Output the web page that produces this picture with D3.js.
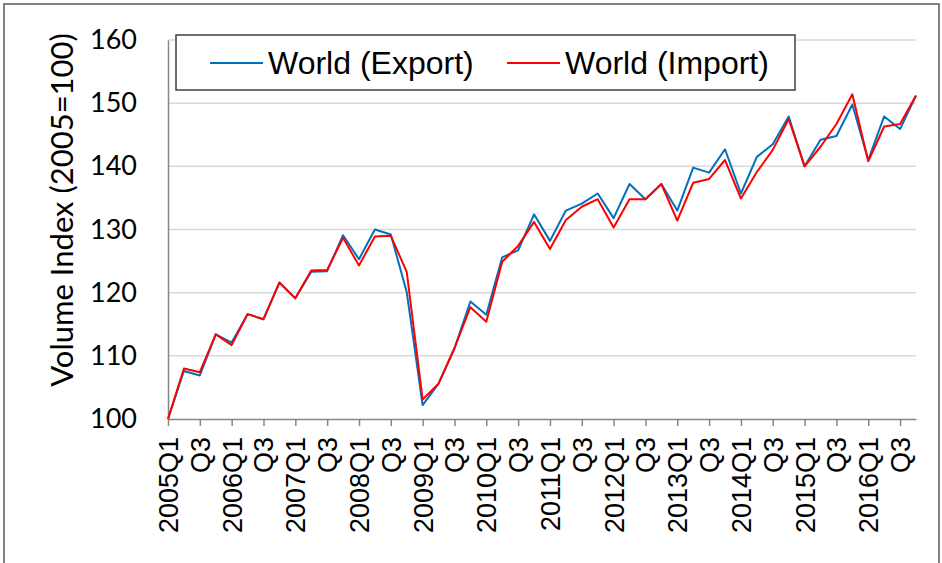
<!DOCTYPE html>
<html><head><meta charset="utf-8">
<script src="https://cdn.jsdelivr.net/npm/d3@7"></script>
<style>body{margin:0;background:#fff}svg{display:block}</style>
</head><body><svg id="c" width="942" height="563"></svg>
<script>
const years = [2005,2006,2007,2008,2009,2010,2011,2012,2013,2014,2015,2016];
const quarters = years.flatMap(y => [1,2,3,4].map(q => y + "Q" + q));
const exportVals = [100,107.6,106.9,113.4,112.1,116.6,115.8,121.6,119.1,123.3,123.4,129.1,
  125.3,130.0,129.2,120.1,102.2,105.6,111.2,118.6,116.5,125.6,126.7,132.4,
  128.2,133.0,134.1,135.7,131.8,137.2,134.8,137.2,133.0,139.8,139.0,142.7,
  135.7,141.5,143.5,147.9,140.0,144.2,144.8,149.8,141.0,147.9,145.9,151.2];
const importVals = [100,108.0,107.4,113.4,111.7,116.6,115.8,121.6,119.1,123.5,123.6,128.7,
  124.3,128.9,129.0,123.3,103.1,105.6,111.2,117.7,115.4,124.9,127.4,131.2,
  126.9,131.5,133.6,134.8,130.3,134.8,134.8,137.2,131.4,137.4,138.0,141.0,
  134.9,139.1,142.6,147.5,140.0,143.1,146.7,151.4,140.8,146.3,146.7,151.2];
const yTicks = [100,110,120,130,140,150,160];
const seriesNames = ["World (Export)","World (Import)"];
const seriesColors = ["#0070C0","#FF0000"];

const svg = d3.select("#c");
const L = 168, R = 916, T = 40, B = 419;
svg.append("rect").attr("x",4).attr("y",4).attr("width",935).attr("height",570)
  .attr("fill","#fff").attr("stroke","#595959").attr("stroke-width",1.5);

const x = d3.scalePoint().domain(quarters).range([L,R]);
const y = d3.scaleLinear().domain([100,160]).range([B,T]);

// gridlines
svg.append("g").selectAll("line").data(yTicks.slice(1)).join("line")
  .attr("x1",L).attr("x2",R).attr("y1",d=>y(d)).attr("y2",d=>y(d))
  .attr("stroke","#d9d9d9").attr("stroke-width",1.5);

// y axis
const ya = svg.append("g").attr("transform",`translate(${L},0)`)
  .call(d3.axisLeft(y).tickValues(yTicks).tickSize(0).tickPadding(31));
ya.select(".domain").attr("stroke","#868686").attr("stroke-width",1.5);
ya.selectAll("text").attr("font-family","Lato, 'Open Sans', sans-serif").attr("font-size",27).attr("fill","#000");

// x axis
const xa = svg.append("g").attr("transform",`translate(0,${B})`)
  .call(d3.axisBottom(x).tickValues(quarters.filter((d,i)=>i%2===0))
    .tickFormat(d => d.endsWith("Q1") ? d : "Q3").tickSize(7).tickSizeOuter(0));
xa.select(".domain").attr("stroke","#868686").attr("stroke-width",1.5);
xa.selectAll(".tick line").attr("stroke","#868686").attr("stroke-width",1.5);
xa.selectAll("text").attr("font-family","'Liberation Sans', Arial, sans-serif").attr("font-size",27).attr("fill","#000")
  .attr("transform","rotate(-90)").attr("text-anchor","end").attr("x",-18).attr("y",0).attr("dy","0.35em");

// y title
svg.append("text").attr("transform","translate(73,210) rotate(-90)").attr("text-anchor","middle")
  .attr("font-family","Lato, 'Open Sans', sans-serif").attr("font-size",31).attr("fill","#000")
  .text("Volume Index (2005=100)");

// lines
const line = d3.line().x((d,i)=>x(quarters[i])).y(d=>y(d));
[exportVals, importVals].forEach((vals,k) => {
  svg.append("path").datum(vals).attr("d",line).attr("fill","none")
    .attr("stroke",seriesColors[k]).attr("stroke-width",2).attr("stroke-linejoin","round");
});

// legend
const lg = svg.append("g");
lg.append("rect").attr("x",176).attr("y",35).attr("width",619).attr("height",55)
  .attr("fill","#fff").attr("stroke","#404040").attr("stroke-width",1.5);
const legX = [210, 507];
seriesNames.forEach((n,k) => {
  lg.append("line").attr("x1",legX[k]).attr("x2",legX[k]+53).attr("y1",63).attr("y2",63)
    .attr("stroke",seriesColors[k]).attr("stroke-width",2);
  lg.append("text").attr("x",legX[k]+58).attr("y",63).attr("dy","0.35em")
    .attr("font-family","'Liberation Sans', Arial, sans-serif").attr("font-size",32).attr("fill","#000").text(n);
});
</script></body></html>
